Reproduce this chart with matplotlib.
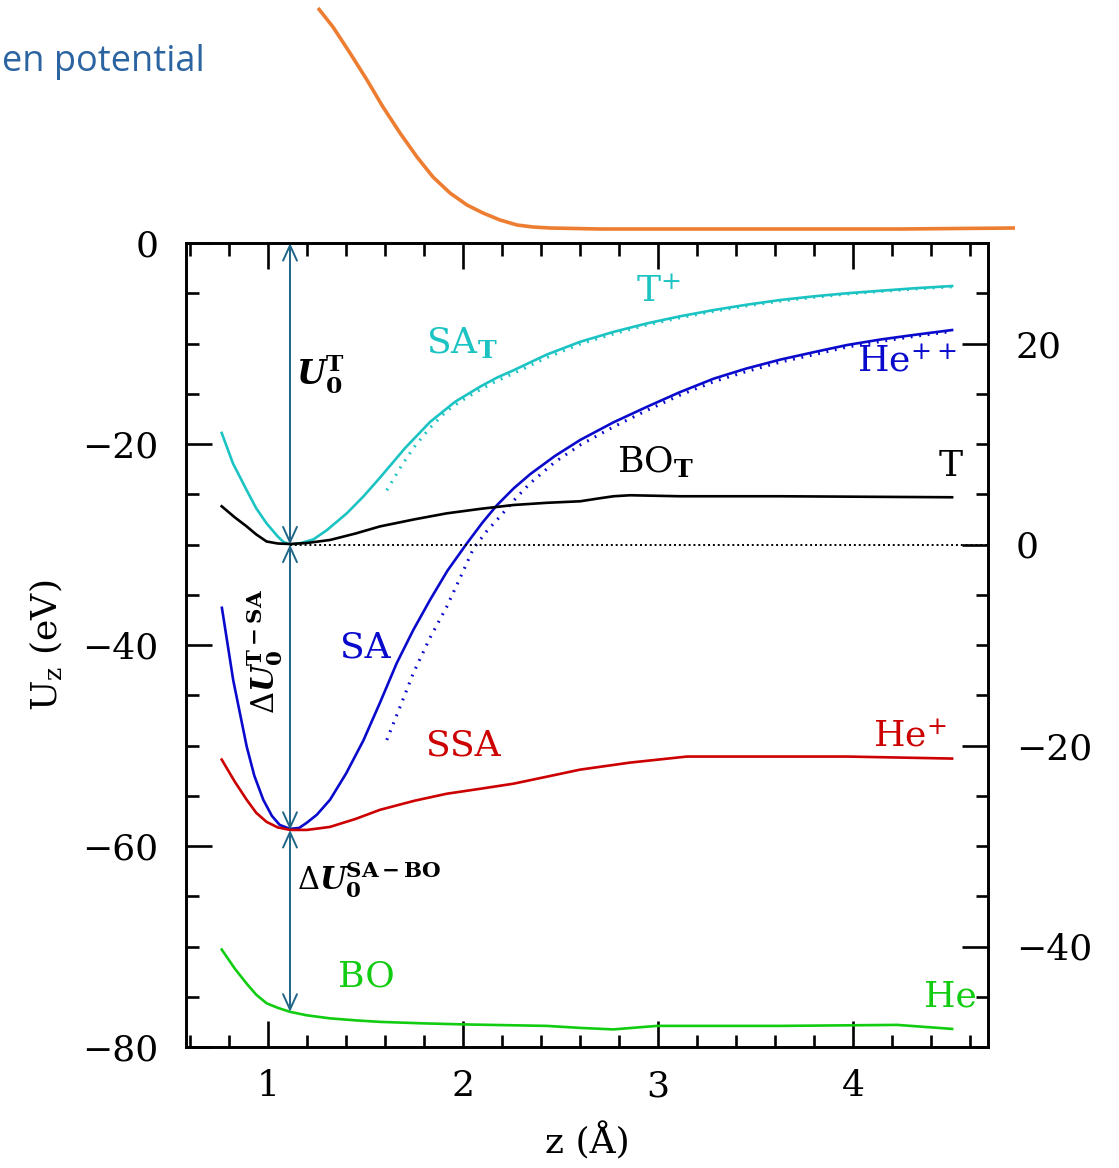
import numpy as np
import matplotlib
matplotlib.use("Agg")
import matplotlib.pyplot as plt
from matplotlib.ticker import MultipleLocator

plt.rcParams['font.family'] = ['DejaVu Serif']
plt.rcParams['mathtext.fontset'] = 'dejavuserif'

# ---------------- data ----------------
# SA_T (cyan, solid) and its asymptotic form T+ (cyan, dotted)
sat_z = [0.763, 0.82, 0.891, 0.94, 0.993, 1.05, 1.08, 1.113, 1.17, 1.232, 1.30, 1.404, 1.49, 1.574,
         1.703, 1.831, 1.959, 2.087, 2.173, 2.258, 2.429, 2.6, 2.77, 2.942, 3.11, 3.284, 3.45, 3.626,
         3.8, 3.968, 4.14, 4.309, 4.506]
sat_u = [-18.9, -21.9, -24.6, -26.4, -27.9, -29.2, -29.75, -30.0, -29.85, -29.5, -28.6, -26.9, -25.2, -23.35,
         -20.4, -17.8, -15.8, -14.3, -13.4, -12.67, -11.1, -9.83, -8.85, -8.0, -7.3, -6.67, -6.15, -5.67,
         -5.3, -5.0, -4.75, -4.51, -4.28]
tplus_z = [1.609, 1.68, 1.745, 1.83, 1.916, 2.0, 2.087, 2.17, 2.256, 2.43, 2.6, 2.77, 2.942, 3.11, 3.284,
           3.45, 3.626, 3.8, 3.968, 4.14, 4.309, 4.506]
tplus_u = [-24.6, -22.3, -20.4, -18.4, -16.7, -15.6, -14.6, -13.75, -13.0, -11.4, -10.05, -9.05, -8.15, -7.45,
           -6.8, -6.27, -5.78, -5.4, -5.08, -4.82, -4.58, -4.36]

# SA (blue, solid) and He++ (blue, dotted)
sa_z = [0.764, 0.822, 0.891, 0.93, 0.976, 1.02, 1.06, 1.113, 1.16, 1.198, 1.25, 1.318, 1.40, 1.489,
        1.575, 1.66, 1.745, 1.831, 1.92, 2.019, 2.1, 2.173, 2.26, 2.344, 2.47, 2.6, 2.77, 2.942, 3.11,
        3.284, 3.45, 3.626, 3.8, 3.968, 4.14, 4.309, 4.506]
sa_u = [-36.3, -43.5, -50.1, -53.0, -55.4, -57.0, -57.9, -58.3, -58.2, -57.7, -56.9, -55.4, -52.8, -49.5,
        -45.7, -41.8, -38.5, -35.5, -32.6, -29.9, -27.8, -26.1, -24.4, -23.0, -21.2, -19.6, -17.85, -16.3,
        -14.85, -13.5, -12.5, -11.6, -10.85, -10.15, -9.6, -9.15, -8.66]
hepp_z = [1.609, 1.68, 1.745, 1.83, 1.916, 1.99, 2.053, 2.12, 2.19, 2.27, 2.344, 2.47, 2.6, 2.77, 2.942,
          3.11, 3.284, 3.45, 3.626, 3.8, 3.968, 4.14, 4.309, 4.506]
hepp_u = [-49.45, -46.0, -42.8, -39.3, -36.2, -33.1, -30.4, -28.7, -27.2, -25.4, -23.9, -21.8, -20.1,
          -18.3, -16.65, -15.15, -13.8, -12.8, -11.85, -11.1, -10.35, -9.8, -9.3, -8.8]

# BO_T (black)
bot_z = [0.763, 0.83, 0.891, 0.94, 0.993, 1.05, 1.113, 1.2, 1.318, 1.45, 1.574, 1.75, 1.916, 2.09,
         2.258, 2.43, 2.6, 2.7, 2.771, 2.856, 3.113, 3.626, 4.506]
bot_u = [-26.2, -27.3, -28.2, -29.0, -29.7, -29.9, -29.95, -29.85, -29.55, -28.9, -28.2, -27.5, -26.9,
         -26.45, -26.07, -25.85, -25.7, -25.4, -25.2, -25.1, -25.2, -25.2, -25.3]

# SSA (red)
ssa_z = [0.763, 0.83, 0.891, 0.94, 0.993, 1.05, 1.113, 1.2, 1.318, 1.45, 1.574, 1.75, 1.916, 2.09,
         2.258, 2.43, 2.6, 2.856, 3.147, 3.626, 3.968, 4.506]
ssa_u = [-51.4, -53.6, -55.4, -56.7, -57.6, -58.15, -58.4, -58.4, -58.1, -57.3, -56.4, -55.5, -54.8,
         -54.3, -53.8, -53.1, -52.4, -51.7, -51.1, -51.1, -51.1, -51.3]

# BO (green)
bo_z = [0.763, 0.83, 0.891, 0.94, 0.993, 1.05, 1.113, 1.2, 1.318, 1.45, 1.574, 1.8, 2.0, 2.429, 2.6,
        2.77, 2.993, 3.626, 4.224, 4.506]
bo_u = [-70.3, -72.2, -73.7, -74.8, -75.65, -76.1, -76.5, -76.85, -77.15, -77.35, -77.5, -77.65, -77.75,
        -77.9, -78.1, -78.25, -77.9, -77.9, -77.8, -78.2]

# reference level and arrow positions
z_min = 1.113
u_T = -30.0
u_SA = -58.4
u_BO = -76.5
u_top = 0.0

# orange overlay curve (figure pixel coordinates of the pasted slide element)
orange_px = [318, 333, 350, 367, 383, 400, 417, 433, 450, 467, 483, 500, 517, 533, 550, 600, 700, 800, 900, 1015]
orange_py = [8, 27, 53, 80, 107, 133, 157, 177, 193, 205, 213, 220, 225, 227, 228, 229, 229, 229, 229, 228]

# ---------------- figure ----------------
W, H = 1119, 1168
fig = plt.figure(figsize=(W / 100, H / 100), dpi=100)

ax = fig.add_axes([186 / W, 1 - 1047 / H, (988 - 186) / W, (1047 - 243) / H])
ax.set_xlim(0.58, 4.69)
ax.set_ylim(-80, 0)

lw = 1.9
cyan, blue, red, green = '#1BC3C3', '#0A0ACC', '#CC0000', '#11CC11'
ax.plot(sat_z, sat_u, color=cyan, lw=lw)
ax.plot(tplus_z, tplus_u, color=cyan, lw=2.2, ls=(0, (0.6, 2.2)))
ax.plot(sa_z, sa_u, color=blue, lw=lw)
ax.plot(hepp_z, hepp_u, color=blue, lw=2.2, ls=(0, (0.6, 2.2)))
ax.plot(bot_z, bot_u, color='black', lw=lw)
ax.plot(ssa_z, ssa_u, color=red, lw=lw)
ax.plot(bo_z, bo_u, color=green, lw=lw)
ax.plot([z_min, 4.69], [u_T, u_T], color='black', lw=1.4, ls=(0, (1, 1.5)))

# arrows
acol = '#1F6587'
for y0, y1 in [(u_top, u_T), (u_T, u_SA), (u_SA, u_BO)]:
    ax.annotate('', xy=(z_min, y1), xytext=(z_min, y0),
                arrowprops=dict(arrowstyle='<->,head_length=1.1,head_width=0.5',
                                color=acol, lw=1.4, shrinkA=0, shrinkB=0))

# labels
fs = 26
ax.text(1.267, -13.1, r'$\mathbfit{U}_{\mathbf{0}}^{\mathbf{T}}$', fontsize=24, ha='center', va='center')
ax.text(0.985, -40.6, r'$\Delta\mathbfit{U}_{\mathbf{0}}^{\mathbf{T-SA}}$', fontsize=22,
        ha='center', va='center', rotation=90)
ax.text(1.15, -63.4, r'$\Delta\mathbfit{U}_{\mathbf{0}}^{\mathbf{SA-BO}}$', fontsize=22,
        ha='left', va='center')

ax.text(1.995, -10.0, r'SA$_\mathbf{T}$', color=cyan, fontsize=fs, ha='center', va='center')
ax.text(3.0, -4.9, r'T$^{+}$', color=cyan, fontsize=fs, ha='center', va='center')
ax.text(4.53, -11.8, r'He$^{++}$', color=blue, fontsize=fs, ha='right', va='center')
ax.text(2.985, -21.8, r'BO$_\mathbf{T}$', color='black', fontsize=fs, ha='center', va='center')
ax.text(4.497, -22.2, 'T', color='black', fontsize=fs, ha='center', va='center')
ax.text(1.497, -40.2, 'SA', color=blue, fontsize=fs, ha='center', va='center')
ax.text(2.0, -50.0, 'SSA', color=red, fontsize=fs, ha='center', va='center')
ax.text(4.48, -49.1, r'He$^{+}$', color=red, fontsize=fs, ha='right', va='center')
ax.text(1.503, -73.0, 'BO', color=green, fontsize=fs, ha='center', va='center')
ax.text(4.497, -75.0, 'He', color=green, fontsize=fs, ha='center', va='center')

# axes styling
for s in ax.spines.values():
    s.set_linewidth(1.9)
ax.xaxis.set_major_locator(MultipleLocator(1))
ax.xaxis.set_minor_locator(MultipleLocator(0.2))
ax.yaxis.set_major_locator(MultipleLocator(20))
ax.yaxis.set_minor_locator(MultipleLocator(5))
ax.tick_params(which='both', direction='in', top=True, right=False, width=1.9, labelsize=fs)
ax.tick_params(which='major', length=19, pad=16)
ax.tick_params(which='minor', length=9)
ax.tick_params(axis='y', which='major', pad=20)

ax2 = ax.twinx()
ax2.set_ylim(-50, 30)
ax2.yaxis.set_major_locator(MultipleLocator(20))
ax2.yaxis.set_minor_locator(MultipleLocator(5))
ax2.tick_params(which='both', direction='in', width=1.9, labelsize=fs)
ax2.tick_params(which='major', length=19, pad=20)
ax2.tick_params(which='minor', length=9)
for s in ax2.spines.values():
    s.set_linewidth(1.9)

ax.set_xlabel('z (Å)', fontsize=fs, labelpad=14)
ax.set_ylabel(r'U$_\mathregular{z}$ (eV)', fontsize=fs, labelpad=12)

# overlay (slide elements outside the plot)
ov = fig.add_axes([0, 0, 1, 1], zorder=-1)
ov.set_xlim(0, W)
ov.set_ylim(H, 0)
ov.axis('off')
ov.patch.set_alpha(0)
ov.plot(orange_px, orange_py, color='#ED7D31', lw=2.6, solid_capstyle='butt')
fig.text(2 / W, 1 - 71 / H, 'en potential', fontsize=26, color='#2B64A0',
         family=['Open Sans', 'DejaVu Sans'], ha='left', va='baseline')

fig.savefig('out.png', dpi=100)
